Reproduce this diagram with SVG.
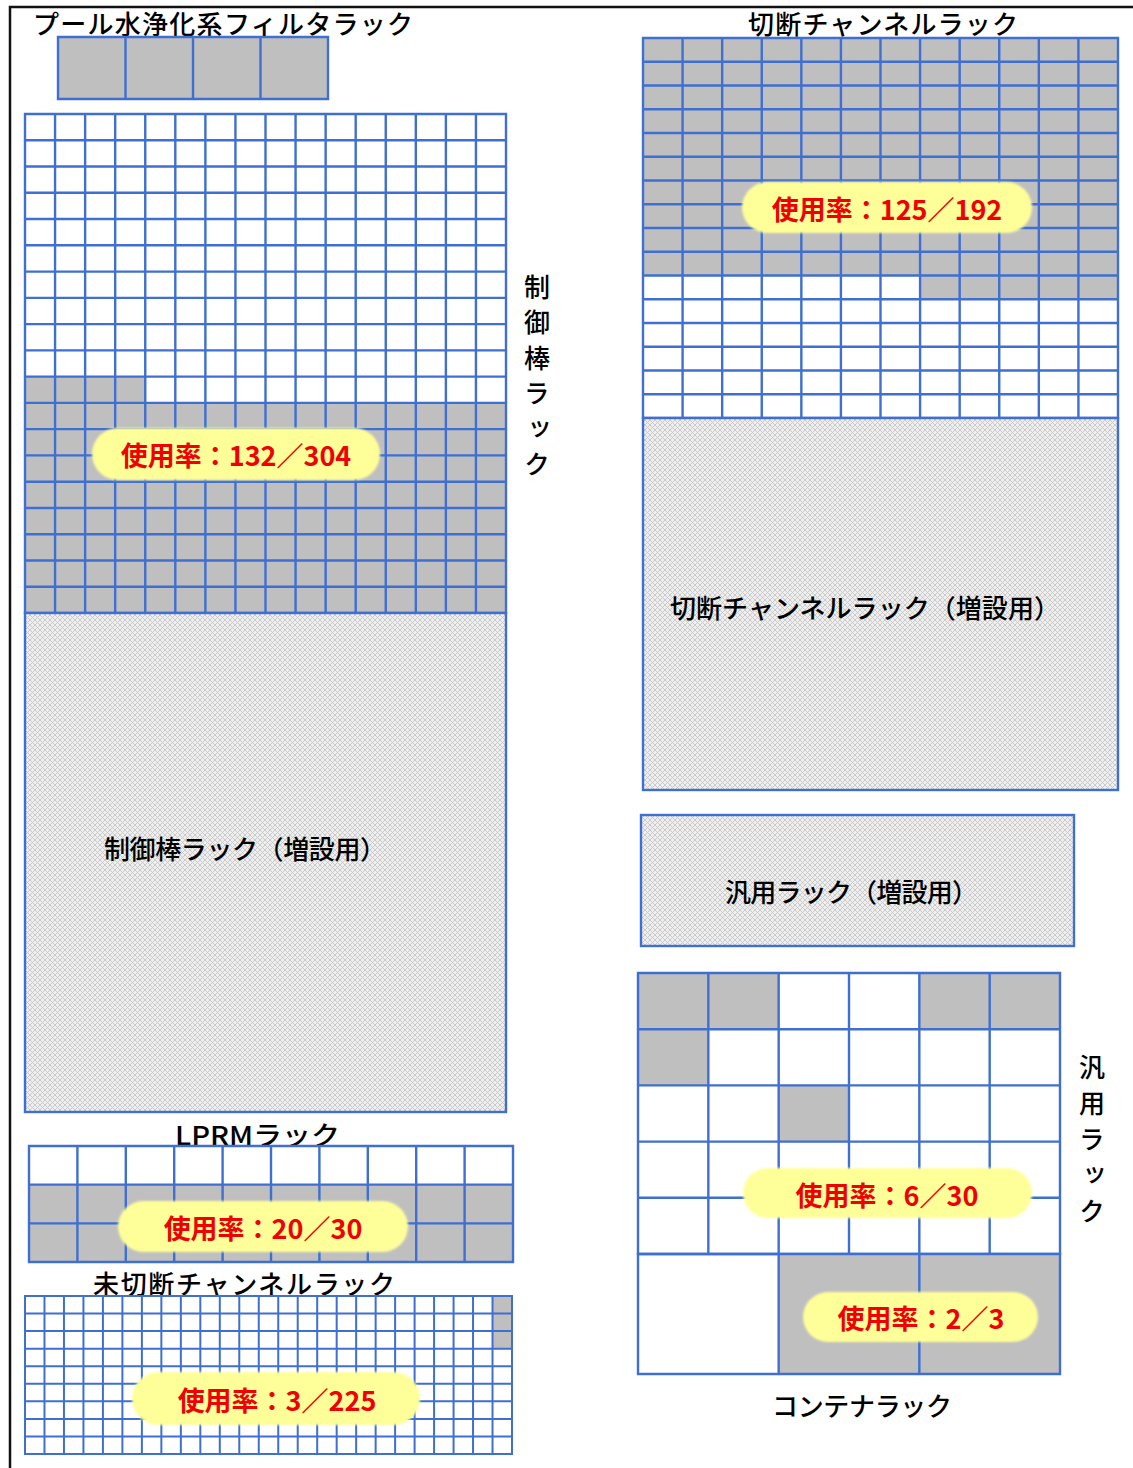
<svg xmlns="http://www.w3.org/2000/svg" width="1133" height="1468" viewBox="0 0 1133 1468">
<style>
.bg{fill:#ffffff}
.frame{stroke:#111;stroke-width:2.5;fill:none}
.grid{stroke:#3F6FD0;stroke-width:2.4;fill:none;stroke-linecap:square}
.gridThin{stroke:#3F6FD0;stroke-width:2;fill:none;stroke-linecap:square}
.gray{fill:#BFBFBF}
.hatch{fill:url(#hatch);stroke:#3F6FD0;stroke-width:2.4}
.lbl{font-family:"Noto Sans CJK JP","Noto Sans",sans-serif;font-size:26px;font-weight:500;fill:#000;dominant-baseline:central}
.vert{font-family:"Noto Sans CJK JP","Noto Sans",sans-serif;font-size:26px;font-weight:500;fill:#000;writing-mode:vertical-rl}
.pill{fill:#FFFF99;filter:url(#soft)}
.pct{font-family:"Noto Sans CJK JP","Noto Sans",sans-serif;font-size:27px;font-weight:bold;fill:#F00000;text-anchor:middle;dominant-baseline:central}
.mid{text-anchor:middle}
</style>
<defs>
<pattern id="hatch" width="5" height="5" patternUnits="userSpaceOnUse">
<rect width="5" height="5" fill="#EFEFEF"/>
<path d="M0 0L5 5M5 0L0 5" stroke="#C6C6C6" stroke-width="0.9"/>
</pattern>
<filter id="soft" x="-5%" y="-20%" width="110%" height="140%">
<feGaussianBlur stdDeviation="1.2"/>
</filter>
</defs>
<rect class="bg" width="1133" height="1468"/>
<path class="frame" d="M10 1468V7H1133"/>

<g id="pool-filter-rack">
<text class="lbl" x="33" y="22" font-size="27" textLength="380">プール水浄化系フィルタラック</text>
<rect class="gray" x="58" y="37" width="270" height="62"/>
<path class="grid" d="M58 37H328V99H58Z M125.5 37V99 M193 37V99 M260.5 37V99"/>
</g>

<g id="control-rod-rack">
<rect class="gray" x="25" y="376.63" width="120.25" height="26.26"/>
<rect class="gray" x="25" y="402.89" width="481" height="210.11"/>
<path class="grid" d="M25 114V613 M55.06 114V613 M85.13 114V613 M115.19 114V613 M145.25 114V613 M175.31 114V613 M205.38 114V613 M235.44 114V613 M265.5 114V613 M295.56 114V613 M325.63 114V613 M355.69 114V613 M385.75 114V613 M415.81 114V613 M445.88 114V613 M475.94 114V613 M506 114V613 M25 114H506 M25 140.26H506 M25 166.53H506 M25 192.79H506 M25 219.05H506 M25 245.32H506 M25 271.58H506 M25 297.84H506 M25 324.11H506 M25 350.37H506 M25 376.63H506 M25 402.89H506 M25 429.16H506 M25 455.42H506 M25 481.68H506 M25 507.95H506 M25 534.21H506 M25 560.47H506 M25 586.74H506 M25 613H506"/>
<text class="vert" x="537" y="274" letter-spacing="9.5">制御棒ラック</text>
<rect class="pill" x="92" y="428" width="288" height="52" rx="26"/>
<text class="pct" x="236" y="454">使用率：132／304</text>
</g>

<g id="control-rod-rack-ext">
<rect class="hatch" x="25" y="613" width="481" height="499"/>
<text class="lbl mid" x="245" y="847" textLength="282">制御棒ラック（増設用）</text>
</g>

<g id="cut-channel-rack">
<text class="lbl mid" x="883" y="22" font-size="27" textLength="270">切断チャンネルラック</text>
<rect class="gray" x="643" y="38" width="475" height="237.5"/>
<rect class="gray" x="920.08" y="275.5" width="197.92" height="23.75"/>
<path class="grid" d="M643 38V418 M682.58 38V418 M722.17 38V418 M761.75 38V418 M801.33 38V418 M840.92 38V418 M880.5 38V418 M920.08 38V418 M959.67 38V418 M999.25 38V418 M1038.83 38V418 M1078.42 38V418 M1118 38V418 M643 38H1118 M643 61.75H1118 M643 85.5H1118 M643 109.25H1118 M643 133H1118 M643 156.75H1118 M643 180.5H1118 M643 204.25H1118 M643 228H1118 M643 251.75H1118 M643 275.5H1118 M643 299.25H1118 M643 323H1118 M643 346.75H1118 M643 370.5H1118 M643 394.25H1118 M643 418H1118"/>
<rect class="pill" x="742" y="182" width="290" height="51" rx="25.5"/>
<text class="pct" x="887" y="208">使用率：125／192</text>
</g>

<g id="cut-channel-rack-ext">
<rect class="hatch" x="643" y="418" width="475" height="372"/>
<text class="lbl mid" x="865" y="606" textLength="390">切断チャンネルラック（増設用）</text>
</g>

<g id="general-rack-ext">
<rect class="hatch" x="641" y="815" width="433" height="131"/>
<text class="lbl mid" x="851.5" y="890" textLength="253">汎用ラック（増設用）</text>
</g>

<g id="general-rack">
<rect class="gray" x="638" y="973" width="140.67" height="56.2"/>
<rect class="gray" x="919.33" y="973" width="140.67" height="56.2"/>
<rect class="gray" x="638" y="1029.2" width="70.33" height="56.2"/>
<rect class="gray" x="778.67" y="1085.4" width="70.33" height="56.2"/>
<path class="grid" stroke-width="2.8" d="M638 973H1060V1254H638Z M708.33 973V1254 M778.67 973V1254 M849 973V1254 M919.33 973V1254 M989.67 973V1254 M638 1029.2H1060 M638 1085.4H1060 M638 1141.6H1060 M638 1197.8H1060"/>
<text class="vert" x="1092" y="1054" letter-spacing="10">汎用ラック</text>
<rect class="pill" x="743" y="1168" width="289" height="50" rx="25"/>
<text class="pct" x="887" y="1194">使用率：6／30</text>
</g>

<g id="container-rack">
<rect class="gray" x="778.67" y="1254" width="281.33" height="120"/>
<path class="grid" stroke-width="3" d="M638 1254H1060V1374H638Z M778.67 1254V1374 M919.33 1254V1374"/>
<rect class="pill" x="803" y="1292" width="235" height="50" rx="25"/>
<text class="pct" x="921" y="1317">使用率：2／3</text>
<text class="lbl mid" x="862" y="1404" textLength="180">コンテナラック</text>
</g>

<g id="lprm-rack">
<text class="lbl mid" x="257.5" y="1133" textLength="165" lengthAdjust="spacingAndGlyphs">LPRMラック</text>
<rect class="gray" x="29" y="1184.67" width="484" height="77.33"/>
<path class="grid" d="M29 1146H513V1262H29Z M77.4 1146V1262 M125.8 1146V1262 M174.2 1146V1262 M222.6 1146V1262 M271 1146V1262 M319.4 1146V1262 M367.8 1146V1262 M416.2 1146V1262 M464.6 1146V1262 M29 1184.67H513 M29 1223.33H513"/>
<rect class="pill" x="118" y="1201" width="290" height="51" rx="25.5"/>
<text class="pct" x="263" y="1227">使用率：20／30</text>
</g>

<g id="uncut-channel-rack">
<text class="lbl mid" x="244" y="1282" font-size="27" textLength="302">未切断チャンネルラック</text>
<rect class="gray" x="492.52" y="1296" width="19.48" height="52.67"/>
<path class="gridThin" d="M25 1296V1454 M44.48 1296V1454 M63.96 1296V1454 M83.44 1296V1454 M102.92 1296V1454 M122.4 1296V1454 M141.88 1296V1454 M161.36 1296V1454 M180.84 1296V1454 M200.32 1296V1454 M219.8 1296V1454 M239.28 1296V1454 M258.76 1296V1454 M278.24 1296V1454 M297.72 1296V1454 M317.2 1296V1454 M336.68 1296V1454 M356.16 1296V1454 M375.64 1296V1454 M395.12 1296V1454 M414.6 1296V1454 M434.08 1296V1454 M453.56 1296V1454 M473.04 1296V1454 M492.52 1296V1454 M512 1296V1454 M25 1296H512 M25 1313.56H512 M25 1331.11H512 M25 1348.67H512 M25 1366.22H512 M25 1383.78H512 M25 1401.33H512 M25 1418.89H512 M25 1436.44H512 M25 1454H512"/>
<rect class="pill" x="132" y="1372" width="288" height="53" rx="26.5"/>
<text class="pct" x="277" y="1399">使用率：3／225</text>
</g>

<g id="connectors"></g>
</svg>
